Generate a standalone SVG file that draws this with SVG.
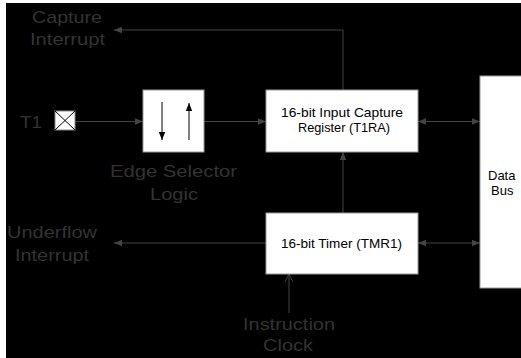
<svg xmlns="http://www.w3.org/2000/svg" width="521" height="358" viewBox="0 0 521 358">
<defs>
<style>
.lbl{font-family:"Liberation Sans",Arial,sans-serif;font-size:17px;fill:#333;}
.box{fill:#fff;stroke:#999;stroke-width:1;}
.btxt{font-family:"Liberation Sans",Arial,sans-serif;font-size:13px;fill:#000;}
.ln{stroke:#444;stroke-width:1;fill:none;}
</style>
<marker id="ah" viewBox="0 0 10 10" refX="10" refY="5" markerWidth="8" markerHeight="8" markerUnits="userSpaceOnUse" orient="auto-start-reverse">
<path d="M0,1 L10,5 L0,9 Z" fill="#444"/>
</marker>
<marker id="ab" viewBox="0 0 10 10" refX="10" refY="5" markerWidth="8" markerHeight="8" markerUnits="userSpaceOnUse" orient="auto-start-reverse">
<path d="M0,1 L10,5 L0,9 Z" fill="#000"/>
</marker>
<marker id="ao" viewBox="0 0 10 10" refX="10" refY="5" markerWidth="8" markerHeight="8" markerUnits="userSpaceOnUse" orient="auto">
<path d="M0,0 L10,5 L0,10" fill="none" stroke="#444" stroke-width="1.2"/>
</marker>
</defs>
<rect x="0" y="0" width="521" height="358" fill="#fff"/>
<rect x="6" y="3" width="515" height="355" fill="#000"/>
<g id="connectors">
<path class="ln" d="M343,90 V30 H114" marker-end="url(#ah)"/>
<line class="ln" x1="75" y1="121.5" x2="143" y2="121.5" marker-end="url(#ah)"/>
<line class="ln" x1="204" y1="121.5" x2="266" y2="121.5" marker-end="url(#ah)"/>
<line class="ln" x1="418" y1="121.5" x2="480" y2="121.5" marker-start="url(#ah)" marker-end="url(#ah)"/>
<line class="ln" x1="343" y1="213" x2="343" y2="152" marker-end="url(#ah)"/>
<line class="ln" x1="418" y1="243" x2="480" y2="243" marker-start="url(#ah)" marker-end="url(#ah)"/>
<line class="ln" x1="266" y1="243" x2="114" y2="243" marker-end="url(#ah)"/>
<line class="ln" x1="289" y1="313" x2="289" y2="274" marker-end="url(#ao)"/>
</g>
<g id="t1">
<text class="lbl" x="20" y="128" textLength="22" lengthAdjust="spacingAndGlyphs">T1</text>
<rect x="55" y="111" width="20" height="19" fill="#fff" stroke="#888"/>
<line x1="55" y1="111" x2="75" y2="130" stroke="#000"/>
<line x1="75" y1="111" x2="55" y2="130" stroke="#000"/>
</g>
<g id="edge-selector">
<rect class="box" x="143" y="90" width="61" height="62"/>
<line x1="162" y1="102" x2="162" y2="140" stroke="#000" marker-end="url(#ab)"/>
<line x1="189" y1="140" x2="189" y2="103" stroke="#000" marker-end="url(#ab)"/>
<text class="lbl" x="110" y="177" textLength="127" lengthAdjust="spacingAndGlyphs">Edge Selector</text>
<text class="lbl" x="150" y="200" textLength="48" lengthAdjust="spacingAndGlyphs">Logic</text>
</g>
<g id="capture-register">
<rect class="box" x="266" y="90" width="152" height="62"/>
<text class="btxt" x="281" y="117" textLength="122" lengthAdjust="spacingAndGlyphs">16-bit Input Capture</text>
<text class="btxt" x="298" y="132" textLength="92" lengthAdjust="spacingAndGlyphs">Register (T1RA)</text>
</g>
<g id="timer">
<rect class="box" x="266" y="213" width="152" height="61"/>
<text class="btxt" x="281" y="247.5" textLength="121" lengthAdjust="spacingAndGlyphs">16-bit Timer (TMR1)</text>
</g>
<g id="data-bus">
<rect class="box" x="480" y="76" width="45" height="212"/>
<text class="btxt" x="488" y="180">Data</text>
<text class="btxt" x="491" y="195">Bus</text>
</g>
<g id="capture-interrupt">
<text class="lbl" x="32" y="23" textLength="70" lengthAdjust="spacingAndGlyphs">Capture</text>
<text class="lbl" x="30" y="45" textLength="75" lengthAdjust="spacingAndGlyphs">Interrupt</text>
</g>
<g id="underflow-interrupt">
<text class="lbl" x="7" y="238" textLength="90" lengthAdjust="spacingAndGlyphs">Underflow</text>
<text class="lbl" x="15" y="261" textLength="74" lengthAdjust="spacingAndGlyphs">Interrupt</text>
</g>
<g id="instruction-clock">
<text class="lbl" x="243" y="330" textLength="92" lengthAdjust="spacingAndGlyphs">Instruction</text>
<text class="lbl" x="263" y="351" textLength="50" lengthAdjust="spacingAndGlyphs">Clock</text>
</g>
</svg>
